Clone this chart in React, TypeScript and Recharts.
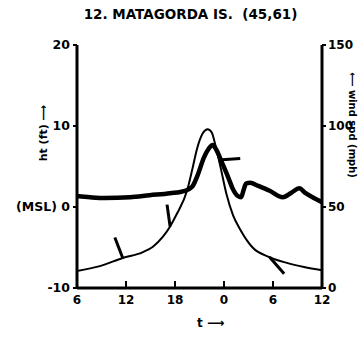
import React from 'react';
import { ComposedChart, Line, Scatter, XAxis, YAxis } from 'recharts';

// hours after 06h on day 1 (x axis ticks read 6, 12, 18, 0, 6, 12)
const hourTicks = [0, 6, 12, 18, 24, 30];
const heightTicks = [-10, 0, 10, 20];
const windTicks = [0, 50, 100, 150];

// surge height (ft) - thick curve
const surgeHours = [0, 1.6, 3.4, 6.5, 8.9, 11.4, 13.2, 14.1, 14.8, 15.5, 16.2, 16.6, 17.1, 17.7, 18.5, 19.1, 19.7, 20.1, 20.4, 20.7, 21.2, 22.2, 23.6, 25.2, 26.3, 27.2, 28.0, 29.0, 30];
const surgeFt = [1.35, 1.2, 1.1, 1.2, 1.45, 1.7, 2.0, 2.5, 4.0, 6.0, 7.3, 7.65, 7.0, 5.6, 3.7, 2.2, 1.35, 1.2, 2.1, 2.9, 3.0, 2.6, 2.0, 1.2, 1.8, 2.3, 1.7, 1.1, 0.6];

// wind speed (mph) - thin curve
const windHours = [0, 2.8, 5.6, 8.0, 9.3, 10.5, 11.4, 12.2, 13.5, 14.1, 14.7, 15.4, 16.0, 16.5, 17.0, 17.6, 18.3, 19.1, 20.0, 21.5, 23.6, 25.7, 27.8, 30];
const windMph = [10.5, 13.5, 18.5, 22, 25.5, 31.5, 38, 45.5, 60.5, 72.8, 86, 95.5, 98, 96, 87, 74, 58, 45, 36, 25, 19, 15.5, 13, 11];

// wind direction barbs on the wind curve
const barbHours = [5.6, 11.4, 17.3, 23.6];
const barbMph = [18.5, 38, 79, 19];
const barbDeg = [339, 352, 86, 139];

const surgeData = surgeHours.map((t, i) => ({ t, ht: surgeFt[i] }));
const windData = windHours.map((t, i) => ({ t, wind: windMph[i] }));
const barbData = barbHours.map((t, i) => ({ t, wind: barbMph[i], deg: barbDeg[i] }));

const FONT = '"DejaVu Sans", sans-serif';
const hourLabel = (v: number) => String((6 + v) % 24);

const Barb = (props: any) => {
  const { cx, cy, payload } = props;
  const a = (payload.deg * Math.PI) / 180;
  const len = 22;
  return (
    <line
      x1={cx}
      y1={cy}
      x2={cx + Math.sin(a) * len}
      y2={cy - Math.cos(a) * len}
      stroke="#000"
      strokeWidth={3}
    />
  );
};

const HourTick = (props: any) => {
  const { x, y, payload } = props;
  return (
    <g>
      <line x1={x} x2={x} y1={y - 3} y2={y - 10} stroke="#000" strokeWidth={2} />
      <text x={x} y={y + 13} textAnchor="middle" fontFamily={FONT} fontWeight="bold" fontSize={12} fill="#000">
        {hourLabel(payload.value)}
      </text>
    </g>
  );
};

export default function App() {
  return (
    <div style={{ position: 'absolute', left: 0, top: 0, width: 360, height: 338, background: '#fff', overflow: 'hidden' }}>
      <div style={{ position: 'absolute', left: 0, width: 381, top: 6, textAlign: 'center', fontFamily: FONT, fontWeight: 'bold', fontSize: 13.5 }}>
        12. MATAGORDA IS.&nbsp; (45,61)
      </div>
      <div
        style={{
          position: 'absolute', left: 43, top: 133, transform: 'translate(-50%, -50%) rotate(-90deg)',
          whiteSpace: 'nowrap', fontFamily: FONT, fontWeight: 'bold', fontSize: 11,
        }}
      >
        ht (ft) ⟶
      </div>
      <div
        style={{
          position: 'absolute', left: 352, top: 125, transform: 'translate(-50%, -50%) rotate(90deg)',
          whiteSpace: 'nowrap', fontFamily: FONT, fontWeight: 'bold', fontSize: 10,
        }}
      >
        ⟵ wind spd (mph)
      </div>
      <div style={{ position: 'absolute', left: 197, top: 316, fontFamily: FONT, fontWeight: 'bold', fontSize: 12, whiteSpace: 'nowrap' }}>
        t ⟶
      </div>
      <ComposedChart width={360} height={338} margin={{ top: 45, right: 0, bottom: 30, left: 0 }}>
        <XAxis
          xAxisId="t"
          dataKey="t"
          type="number"
          domain={[0, 30]}
          ticks={hourTicks}
          tickSize={0}
          tickMargin={3}
          height={20}
          axisLine={{ stroke: '#000', strokeWidth: 3 }}
          tickLine={false}
          tick={<HourTick />}
          allowDuplicatedCategory={false}
        />
        <YAxis
          yAxisId="ht"
          type="number"
          domain={[-10, 20]}
          ticks={heightTicks}
          width={77}
          tickSize={4}
          tickMargin={3}
          axisLine={{ stroke: '#000', strokeWidth: 3 }}
          tickLine={{ stroke: '#000', strokeWidth: 2 }}
          tick={{ fill: '#000', fontFamily: FONT, fontWeight: 'bold', fontSize: 12.5 }}
          tickFormatter={(v: number) => (v === 0 ? '(MSL) 0' : String(v))}
        />
        <YAxis
          yAxisId="wind"
          orientation="right"
          type="number"
          domain={[0, 150]}
          ticks={windTicks}
          width={38}
          tickSize={4}
          tickMargin={2}
          axisLine={{ stroke: '#000', strokeWidth: 3 }}
          tickLine={{ stroke: '#000', strokeWidth: 2 }}
          tick={{ fill: '#000', fontFamily: FONT, fontWeight: 'bold', fontSize: 12, textAnchor: 'start' }}
        />
        <Line
          xAxisId="t"
          yAxisId="wind"
          data={windData}
          dataKey="wind"
          type="monotone"
          stroke="#000"
          strokeWidth={2}
          dot={false}
          isAnimationActive={false}
        />
        <Line
          xAxisId="t"
          yAxisId="ht"
          data={surgeData}
          dataKey="ht"
          type="monotone"
          stroke="#000"
          strokeWidth={4.5}
          dot={false}
          isAnimationActive={false}
        />
        <Scatter
          xAxisId="t"
          yAxisId="wind"
          data={barbData}
          dataKey="wind"
          shape={<Barb />}
          isAnimationActive={false}
        />
      </ComposedChart>
    </div>
  );
}
